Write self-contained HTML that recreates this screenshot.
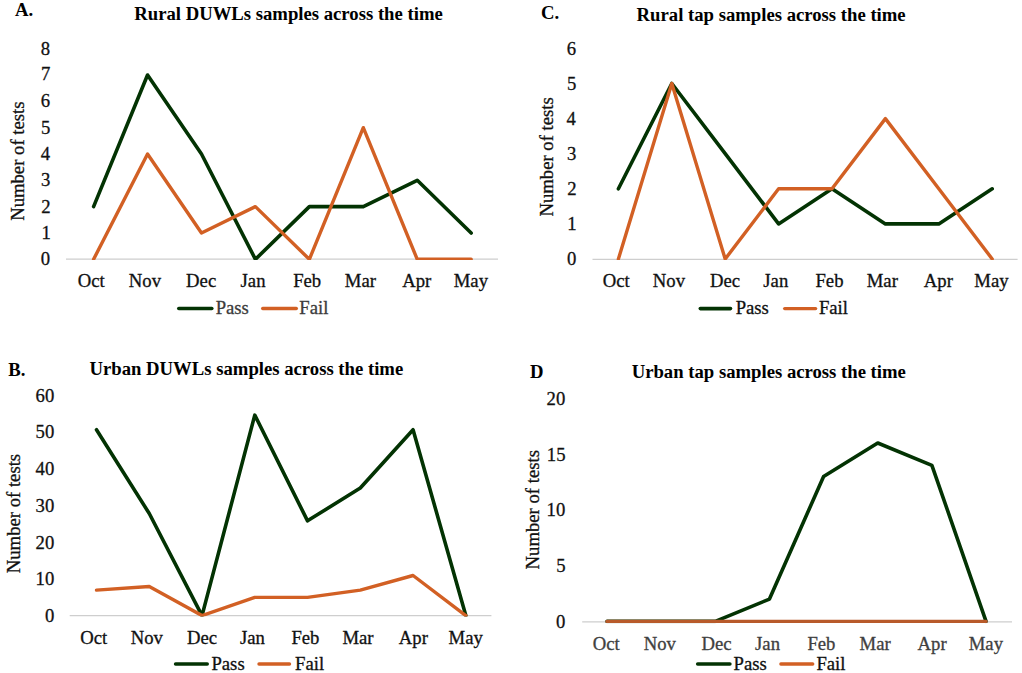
<!DOCTYPE html>
<html><head><meta charset="utf-8"><title>Charts</title>
<style>
html,body{margin:0;padding:0;background:#fff;overflow:hidden;}
svg{display:block;}
text{font-family:"Liberation Serif",serif;font-size:18.7px;stroke-width:0.3px;}
text.b{font-weight:bold;stroke-width:0;}
</style></head>
<body>
<svg width="1022" height="673" viewBox="0 0 1022 673">
<rect width="1022" height="673" fill="#fff"/>
<text x="14.96" y="15.85" text-anchor="start" class="b" style="fill:#000;stroke:#000">A.</text>
<text x="134.26" y="19.6" text-anchor="start" class="b" style="fill:#000;stroke:#000">Rural DUWLs samples across the time</text>
<text transform="translate(24.4,161.17) rotate(-90)" text-anchor="middle" class="r" style="fill:#111;stroke:#111">Number of tests</text>
<text x="50.1" y="265.09" text-anchor="end" class="r" style="fill:#111;stroke:#111">0</text>
<text x="50.73" y="239.34" text-anchor="end" class="r" style="fill:#111;stroke:#111">1</text>
<text x="50.65" y="212.94" text-anchor="end" class="r" style="fill:#111;stroke:#111">2</text>
<text x="50.44" y="186.4" text-anchor="end" class="r" style="fill:#111;stroke:#111">3</text>
<text x="50.07" y="159.93" text-anchor="end" class="r" style="fill:#111;stroke:#111">4</text>
<text x="50.44" y="133.72" text-anchor="end" class="r" style="fill:#111;stroke:#111">5</text>
<text x="50.21" y="106.92" text-anchor="end" class="r" style="fill:#111;stroke:#111">6</text>
<text x="50.23" y="80.34" text-anchor="end" class="r" style="fill:#111;stroke:#111">7</text>
<text x="50.17" y="54.56" text-anchor="end" class="r" style="fill:#111;stroke:#111">8</text>
<text x="91.19" y="286.9" text-anchor="middle" class="r" style="fill:#111;stroke:#111">Oct</text>
<text x="144.95" y="286.9" text-anchor="middle" class="r" style="fill:#111;stroke:#111">Nov</text>
<text x="201.17" y="286.9" text-anchor="middle" class="r" style="fill:#111;stroke:#111">Dec</text>
<text x="253.04" y="286.9" text-anchor="middle" class="r" style="fill:#111;stroke:#111">Jan</text>
<text x="307.2" y="286.9" text-anchor="middle" class="r" style="fill:#111;stroke:#111">Feb</text>
<text x="360.38" y="286.9" text-anchor="middle" class="r" style="fill:#111;stroke:#111">Mar</text>
<text x="416.68" y="286.9" text-anchor="middle" class="r" style="fill:#111;stroke:#111">Apr</text>
<text x="470.88" y="286.9" text-anchor="middle" class="r" style="fill:#111;stroke:#111">May</text>
<text x="215.64" y="314.2" text-anchor="start" class="r" style="fill:#3c3c3c;stroke:#3c3c3c">Pass</text>
<text x="299.36" y="314.2" text-anchor="start" class="r" style="fill:#3c3c3c;stroke:#3c3c3c">Fail</text>
<text x="541" y="18.8" text-anchor="start" class="b" style="fill:#000;stroke:#000">C.</text>
<text x="636.61" y="21" text-anchor="start" class="b" style="fill:#000;stroke:#000">Rural tap samples across the time</text>
<text transform="translate(552.5,156.85) rotate(-90)" text-anchor="middle" class="r" style="fill:#111;stroke:#111">Number of tests</text>
<text x="576.25" y="264.58" text-anchor="end" class="r" style="fill:#111;stroke:#111">0</text>
<text x="576.64" y="229.94" text-anchor="end" class="r" style="fill:#111;stroke:#111">1</text>
<text x="576.51" y="194.64" text-anchor="end" class="r" style="fill:#111;stroke:#111">2</text>
<text x="576.29" y="160.21" text-anchor="end" class="r" style="fill:#111;stroke:#111">3</text>
<text x="575.74" y="124.94" text-anchor="end" class="r" style="fill:#111;stroke:#111">4</text>
<text x="576.27" y="89.9" text-anchor="end" class="r" style="fill:#111;stroke:#111">5</text>
<text x="576.05" y="55.19" text-anchor="end" class="r" style="fill:#111;stroke:#111">6</text>
<text x="616.19" y="286.9" text-anchor="middle" class="r" style="fill:#111;stroke:#111">Oct</text>
<text x="668.93" y="286.9" text-anchor="middle" class="r" style="fill:#111;stroke:#111">Nov</text>
<text x="724.95" y="286.9" text-anchor="middle" class="r" style="fill:#111;stroke:#111">Dec</text>
<text x="775.8" y="286.9" text-anchor="middle" class="r" style="fill:#111;stroke:#111">Jan</text>
<text x="829.46" y="286.9" text-anchor="middle" class="r" style="fill:#111;stroke:#111">Feb</text>
<text x="882.31" y="286.9" text-anchor="middle" class="r" style="fill:#111;stroke:#111">Mar</text>
<text x="938.35" y="286.9" text-anchor="middle" class="r" style="fill:#111;stroke:#111">Apr</text>
<text x="991.4" y="286.9" text-anchor="middle" class="r" style="fill:#111;stroke:#111">May</text>
<text x="735.65" y="314.2" text-anchor="start" class="r" style="fill:#111;stroke:#111">Pass</text>
<text x="818.93" y="314.2" text-anchor="start" class="r" style="fill:#111;stroke:#111">Fail</text>
<text x="8.35" y="375.5" text-anchor="start" class="b" style="fill:#000;stroke:#000">B.</text>
<text x="89.53" y="375.4" text-anchor="start" class="b" style="fill:#000;stroke:#000">Urban DUWLs samples across the time</text>
<text transform="translate(19.9,513.55) rotate(-90)" text-anchor="middle" class="r" style="fill:#111;stroke:#111">Number of tests</text>
<text x="54.31" y="622.03" text-anchor="end" class="r" style="fill:#111;stroke:#111">0</text>
<text x="54.31" y="585.23" text-anchor="end" class="r" style="fill:#111;stroke:#111">10</text>
<text x="54.31" y="548.68" text-anchor="end" class="r" style="fill:#111;stroke:#111">20</text>
<text x="54.31" y="512.07" text-anchor="end" class="r" style="fill:#111;stroke:#111">30</text>
<text x="54.31" y="475.49" text-anchor="end" class="r" style="fill:#111;stroke:#111">40</text>
<text x="54.31" y="438.11" text-anchor="end" class="r" style="fill:#111;stroke:#111">50</text>
<text x="54.31" y="402.11" text-anchor="end" class="r" style="fill:#111;stroke:#111">60</text>
<text x="93.82" y="644.3" text-anchor="middle" class="r" style="fill:#111;stroke:#111">Oct</text>
<text x="146.79" y="644.3" text-anchor="middle" class="r" style="fill:#111;stroke:#111">Nov</text>
<text x="202.06" y="644.3" text-anchor="middle" class="r" style="fill:#111;stroke:#111">Dec</text>
<text x="252.49" y="644.3" text-anchor="middle" class="r" style="fill:#111;stroke:#111">Jan</text>
<text x="305.45" y="644.3" text-anchor="middle" class="r" style="fill:#111;stroke:#111">Feb</text>
<text x="358.01" y="644.3" text-anchor="middle" class="r" style="fill:#111;stroke:#111">Mar</text>
<text x="413.36" y="644.3" text-anchor="middle" class="r" style="fill:#111;stroke:#111">Apr</text>
<text x="465.71" y="644.3" text-anchor="middle" class="r" style="fill:#111;stroke:#111">May</text>
<text x="211.43" y="669.5" text-anchor="start" class="r" style="fill:#111;stroke:#111">Pass</text>
<text x="295.11" y="669.5" text-anchor="start" class="r" style="fill:#111;stroke:#111">Fail</text>
<text x="530.01" y="378" text-anchor="start" class="b" style="fill:#000;stroke:#000">D</text>
<text x="631.67" y="377.7" text-anchor="start" class="b" style="fill:#000;stroke:#000">Urban tap samples across the time</text>
<text transform="translate(538.5,509.73) rotate(-90)" text-anchor="middle" class="r" style="fill:#111;stroke:#111">Number of tests</text>
<text x="565.31" y="628.33" text-anchor="end" class="r" style="fill:#111;stroke:#111">0</text>
<text x="565.47" y="572.46" text-anchor="end" class="r" style="fill:#111;stroke:#111">5</text>
<text x="565.31" y="516.26" text-anchor="end" class="r" style="fill:#111;stroke:#111">10</text>
<text x="565.47" y="461.19" text-anchor="end" class="r" style="fill:#111;stroke:#111">15</text>
<text x="565.31" y="405.44" text-anchor="end" class="r" style="fill:#111;stroke:#111">20</text>
<text x="606.21" y="649.8" text-anchor="middle" class="r" style="fill:#404040;stroke:#404040">Oct</text>
<text x="659.78" y="649.8" text-anchor="middle" class="r" style="fill:#404040;stroke:#404040">Nov</text>
<text x="716.45" y="649.8" text-anchor="middle" class="r" style="fill:#404040;stroke:#404040">Dec</text>
<text x="767.57" y="649.8" text-anchor="middle" class="r" style="fill:#404040;stroke:#404040">Jan</text>
<text x="821.41" y="649.8" text-anchor="middle" class="r" style="fill:#404040;stroke:#404040">Feb</text>
<text x="875.19" y="649.8" text-anchor="middle" class="r" style="fill:#404040;stroke:#404040">Mar</text>
<text x="932.13" y="649.8" text-anchor="middle" class="r" style="fill:#404040;stroke:#404040">Apr</text>
<text x="985.88" y="649.8" text-anchor="middle" class="r" style="fill:#404040;stroke:#404040">May</text>
<text x="733.61" y="669.5" text-anchor="start" class="r" style="fill:#111;stroke:#111">Pass</text>
<text x="816.43" y="669.5" text-anchor="start" class="r" style="fill:#111;stroke:#111">Fail</text>
<line x1="66" y1="259.2" x2="498" y2="259.2" stroke="#cecece" stroke-width="1.3"/>
<clipPath id="clipA"><rect x="61" y="-140.1" width="442" height="400"/></clipPath>
<polyline clip-path="url(#clipA)" points="93.6,206.64 147.54,74.99 201.48,153.98 255.42,259.3 309.36,206.64 363.3,206.64 417.24,180.31 471.18,232.97" fill="none" stroke="#033303" stroke-width="3.6" stroke-linejoin="round" stroke-linecap="round"/>
<polyline clip-path="url(#clipA)" points="93.6,259.3 147.54,153.98 201.48,232.97 255.42,206.64 309.36,259.3 363.3,127.65 417.24,259.3 471.18,259.3" fill="none" stroke="#d26024" stroke-width="3.4" stroke-linejoin="round" stroke-linecap="round"/>
<line x1="178.8" y1="308.5" x2="211.8" y2="308.5" stroke="#033303" stroke-width="3.6" stroke-linecap="round"/>
<line x1="262.7" y1="308.5" x2="296.3" y2="308.5" stroke="#d26024" stroke-width="3.4" stroke-linecap="round"/>
<line x1="592.5" y1="259.3" x2="1017.6" y2="259.3" stroke="#cecece" stroke-width="1.3"/>
<clipPath id="clipC"><rect x="587.5" y="-140" width="435.1" height="400"/></clipPath>
<polyline clip-path="url(#clipC)" points="618.4,188.8 671.8,83.5 725.2,153.7 778.6,223.9 832,188.8 885.4,223.9 938.8,223.9 992.2,188.8" fill="none" stroke="#033303" stroke-width="3.6" stroke-linejoin="round" stroke-linecap="round"/>
<polyline clip-path="url(#clipC)" points="618.4,259 671.8,83.5 725.2,259 778.6,188.8 832,188.8 885.4,118.6 938.8,188.8 992.2,259" fill="none" stroke="#d26024" stroke-width="3.4" stroke-linejoin="round" stroke-linecap="round"/>
<line x1="700.3" y1="308.6" x2="730.5" y2="308.6" stroke="#033303" stroke-width="3.6" stroke-linecap="round"/>
<line x1="784.7" y1="308.6" x2="815.6" y2="308.6" stroke="#d26024" stroke-width="3.4" stroke-linecap="round"/>
<line x1="69.7" y1="615.7" x2="491.4" y2="615.7" stroke="#cecece" stroke-width="1.3"/>
<clipPath id="clipB"><rect x="64.7" y="216.4" width="431.7" height="400"/></clipPath>
<polyline clip-path="url(#clipB)" points="96.5,429.71 149.26,513.54 202.02,615.6 254.78,415.12 307.54,520.83 360.3,488.03 413.06,429.71 465.82,615.6" fill="none" stroke="#033303" stroke-width="3.6" stroke-linejoin="round" stroke-linecap="round"/>
<polyline clip-path="url(#clipB)" points="96.5,590.09 149.26,586.44 202.02,615.6 254.78,597.38 307.54,597.38 360.3,590.09 413.06,575.5 465.82,615.6" fill="none" stroke="#d26024" stroke-width="3.4" stroke-linejoin="round" stroke-linecap="round"/>
<line x1="175.6" y1="664" x2="207.2" y2="664" stroke="#033303" stroke-width="3.6" stroke-linecap="round"/>
<line x1="259" y1="664" x2="289.5" y2="664" stroke="#d26024" stroke-width="3.4" stroke-linecap="round"/>
<line x1="582.2" y1="621.8" x2="1012" y2="621.8" stroke="#cecece" stroke-width="1.3"/>
<clipPath id="clipD"><rect x="577.2" y="223.2" width="439.8" height="400"/></clipPath>
<polyline clip-path="url(#clipD)" points="607,621.4 661.15,621.4 715.3,621.4 769.45,599.1 823.6,476.45 877.75,443 931.9,465.3 986.05,621.4" fill="none" stroke="#033303" stroke-width="3.6" stroke-linejoin="round" stroke-linecap="round"/>
<polyline clip-path="url(#clipD)" points="607,621.4 661.15,621.4 715.3,621.4 769.45,621.4 823.6,621.4 877.75,621.4 931.9,621.4 986.05,621.4" fill="none" stroke="#b85a2a" stroke-width="3.3" stroke-linejoin="round" stroke-linecap="round"/>
<line x1="697.7" y1="664" x2="729.9" y2="664" stroke="#033303" stroke-width="3.6" stroke-linecap="round"/>
<line x1="780.9" y1="664" x2="812.7" y2="664" stroke="#d26024" stroke-width="3.4" stroke-linecap="round"/>
</svg>
</body></html>
